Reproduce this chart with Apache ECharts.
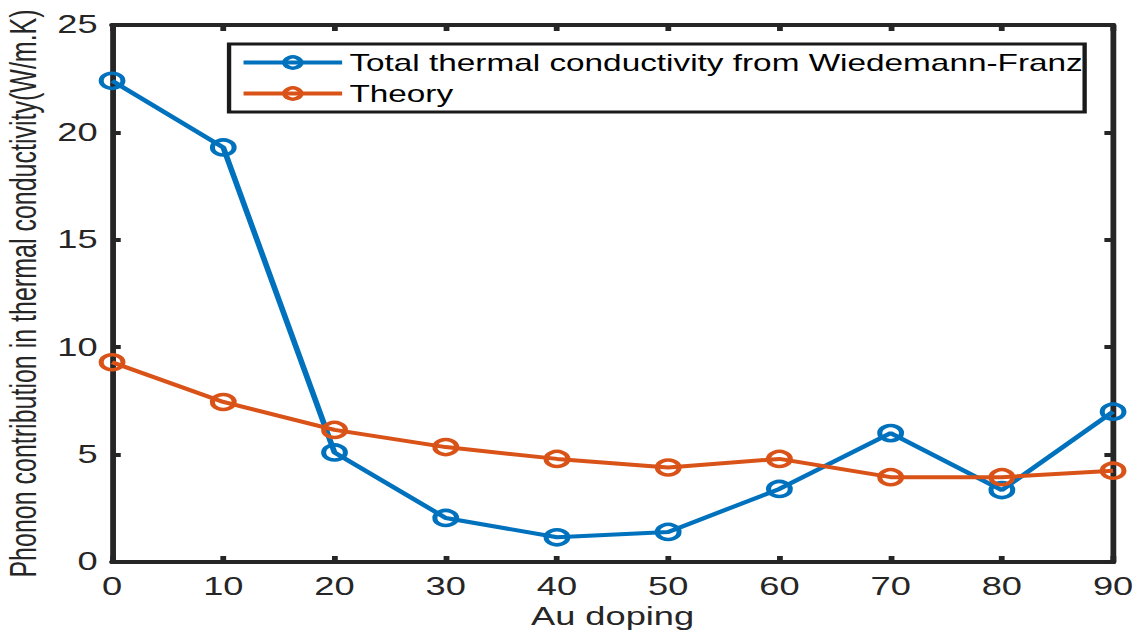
<!DOCTYPE html>
<html>
<head>
<meta charset="utf-8">
<script src="https://cdn.jsdelivr.net/npm/echarts@6/dist/echarts.min.js"></script>
<style>
  html, body { margin: 0; padding: 0; background: #fff; overflow: hidden; }
  /* the figure is laid out narrow and widened horizontally, like the exported plot */
  #chart { width: 785px; height: 637px; transform: scaleX(1.4497); transform-origin: 0 0; }
</style>
</head>
<body>
<div id="chart"></div>
<script>
// Au doping level (x) and phonon thermal conductivity (W/m.K)
const dopingLevels = [0, 10, 20, 30, 40, 50, 60, 70, 80, 90];
const wiedemannFranz = [22.4, 19.3, 5.1, 2.05, 1.15, 1.4, 3.4, 6.0, 3.35, 7.0];
const theory = [9.3, 7.45, 6.15, 5.35, 4.8, 4.4, 4.8, 3.95, 3.95, 4.25];
const seriesNames = ['Total thermal conductivity from Wiedemann-Franz', 'Theory'];
const xTitle = 'Au doping';
const yTitle = 'Phonon contribution in thermal conductivity(W/m.K)';

const BLUE = '#0072BD';
const ORANGE = '#D95319';
const AXIS = '#262626';
const FONT = 'Liberation Sans, Arial, Helvetica, sans-serif';

function pairs(ys) { return dopingLevels.map((x, i) => [x, ys[i]]); }

function lineSeries(name, ys, color) {
  return {
    name: name,
    type: 'line',
    data: pairs(ys),
    symbol: 'circle',
    symbolSize: 15,
    showSymbol: true,
    lineStyle: { color: color, width: 4 },
    itemStyle: { color: 'rgba(255,255,255,0)', borderColor: color, borderWidth: 3.5 },
    emphasis: { disabled: true },
    z: 3
  };
}

const axisLine = { show: true, onZero: false, lineStyle: { color: AXIS, width: 4 } };
const axisTick = { show: true, inside: true, length: 6, lineStyle: { color: AXIS, width: 4 } };

const chart = echarts.init(document.getElementById('chart'), null, { renderer: 'svg' });
chart.setOption({
  animation: false,
  backgroundColor: '#fff',
  grid: { left: 77.3, right: 17.2, top: 25, bottom: 75, outerBoundsMode: 'none', containLabel: false },
  legend: {
    orient: 'vertical',
    left: 158,
    top: 44,
    data: seriesNames,
    itemWidth: 68,
    itemHeight: 14,
    itemGap: 8,
    padding: [7, 1, 7, 8],
    borderColor: '#1a1a1a',
    borderWidth: 3,
    backgroundColor: '#fff',
    lineStyle: { width: 4 },
    itemStyle: { borderWidth: 3.5 },
    textStyle: { fontFamily: FONT, fontSize: 23, color: '#000' }
  },
  xAxis: [
    {
      type: 'value', min: 0, max: 90, interval: 10, position: 'bottom',
      name: xTitle, nameLocation: 'middle', nameGap: 39,
      nameTextStyle: { fontFamily: FONT, fontSize: 25, color: AXIS },
      axisLine: axisLine, axisTick: axisTick,
      axisLabel: { fontFamily: FONT, fontSize: 25, color: AXIS, margin: 12 },
      splitLine: { show: false }
    },
    {
      type: 'value', min: 0, max: 90, interval: 10, position: 'top',
      axisLine: axisLine, axisTick: axisTick,
      axisLabel: { show: false }, splitLine: { show: false }
    }
  ],
  yAxis: [
    {
      type: 'value', min: 0, max: 25, interval: 5, position: 'left',
      name: yTitle, nameLocation: 'middle', nameGap: 48, nameRotate: 90,
      nameTextStyle: { fontFamily: FONT, fontSize: 25, color: AXIS },
      axisLine: axisLine, axisTick: axisTick,
      axisLabel: { fontFamily: FONT, fontSize: 25, color: AXIS, margin: 10 },
      splitLine: { show: false }
    },
    {
      type: 'value', min: 0, max: 25, interval: 5, position: 'right',
      axisLine: axisLine, axisTick: axisTick,
      axisLabel: { show: false }, splitLine: { show: false }
    }
  ],
  series: [
    lineSeries(seriesNames[0], wiedemannFranz, BLUE),
    lineSeries(seriesNames[1], theory, ORANGE)
  ]
});
</script>
</body>
</html>
